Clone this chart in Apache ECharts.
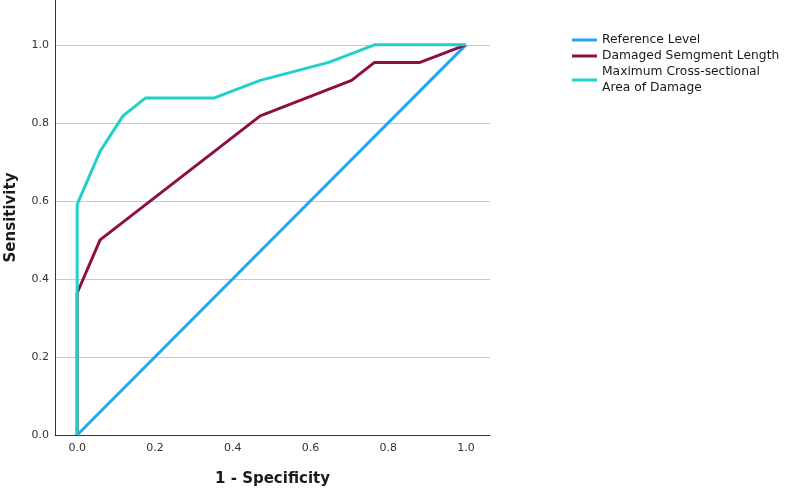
<!DOCTYPE html>
<html>
<head>
<meta charset="utf-8">
<script src="https://cdn.jsdelivr.net/npm/echarts@6/dist/echarts.min.js"></script>
<style>
  html, body { margin: 0; padding: 0; background: #fff; }
  #rocChart { width: 786px; height: 489px; }
</style>
</head>
<body>
<div id="rocChart"></div>
<script>
// ROC curve points [1 - specificity, sensitivity]
var referenceLevel = [[0, 0], [1, 1]]
var segmentLength = [
  [0, 0], [0, 0.364], [0.059, 0.5], [0.471, 0.818], [0.706, 0.909],
  [0.765, 0.955], [0.882, 0.955], [1, 1]
]
var crossSectionArea = [
  [0, 0], [0, 0.591], [0.059, 0.727], [0.118, 0.818], [0.176, 0.864],
  [0.353, 0.864], [0.471, 0.909], [0.647, 0.955], [0.765, 1], [1, 1]
]
var tickValues = [0, 0.2, 0.4, 0.6, 0.8, 1.0]
var seriesNames = ['Reference Level', 'Damaged Semgment Length', 'Maximum Cross-sectional\nArea of Damage']
var seriesColors = ['#22a6f6', '#8e0f46', '#22cfca']

var rocChart = echarts.init(document.getElementById('rocChart'))

var option = {
  animation: false,
  color: seriesColors,
  textStyle: { fontFamily: 'DejaVu Sans' },
  grid: { left: 55, right: 296, top: 0, bottom: 54, outerBoundsMode: 'none', containLabel: false },
  legend: {
    orient: 'vertical',
    left: 572,
    top: 32,
    padding: 0,
    itemGap: 0,
    itemWidth: 25,
    itemHeight: 3,
    icon: 'rect',
    textStyle: { fontSize: 12.3, color: '#1a1a1a', lineHeight: 16 },
    data: seriesNames
  },
  xAxis: {
    type: 'value',
    min: -0.057,
    max: 1.062,
    name: '1 - Specificity',
    nameLocation: 'middle',
    nameGap: 37,
    nameTextStyle: { fontSize: 15, fontWeight: 'bold', color: '#1a1a1a' },
    axisLine: { show: true, onZero: false, lineStyle: { color: '#333', width: 1 } },
    axisTick: { show: false, customValues: tickValues },
    axisLabel: {
      customValues: tickValues,
      fontSize: 11,
      color: '#333',
      margin: 8,
      formatter: function(v) { return v.toFixed(1) }
    },
    splitLine: { show: false }
  },
  yAxis: {
    type: 'value',
    min: 0,
    max: 1.115,
    name: 'Sensitivity',
    nameLocation: 'middle',
    nameGap: 36,
    nameTextStyle: { fontSize: 15, fontWeight: 'bold', color: '#1a1a1a' },
    axisLine: { show: true, onZero: false, lineStyle: { color: '#333', width: 1 } },
    axisTick: { show: false, customValues: tickValues },
    axisLabel: {
      customValues: tickValues,
      fontSize: 11,
      color: '#333',
      margin: 6,
      formatter: function(v) { return v.toFixed(1) }
    },
    splitLine: { show: true, lineStyle: { color: '#c8c8c8', width: 1 } }
  },
  series: [
    {
      name: seriesNames[0],
      type: 'line',
      data: referenceLevel,
      showSymbol: false,
      lineStyle: { width: 3 },
      z: 2
    },
    {
      name: seriesNames[1],
      type: 'line',
      data: segmentLength,
      showSymbol: false,
      lineStyle: { width: 3 },
      z: 3
    },
    {
      name: seriesNames[2],
      type: 'line',
      data: crossSectionArea,
      showSymbol: false,
      lineStyle: { width: 3 },
      z: 4
    }
  ]
}

rocChart.setOption(option)
</script>
</body>
</html>
